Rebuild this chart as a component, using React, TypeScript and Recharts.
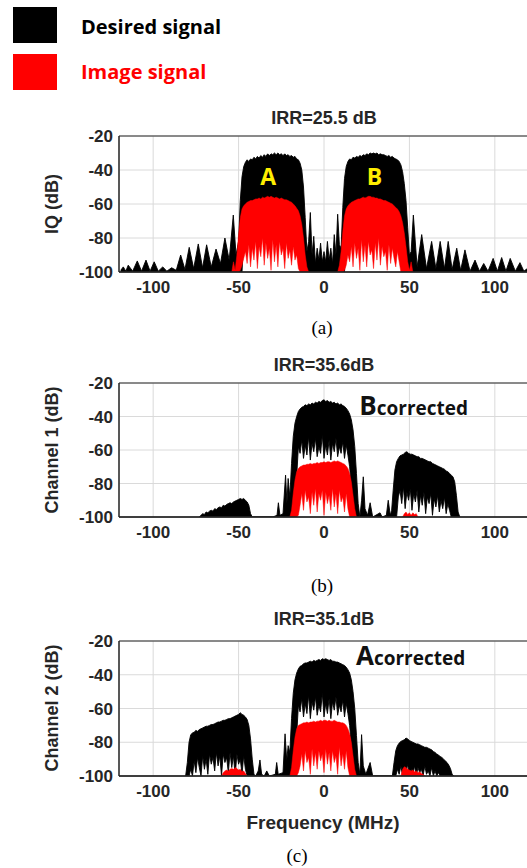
import React from 'react';
import { ComposedChart, Area, XAxis, YAxis, CartesianGrid, ReferenceArea, ReferenceDot } from 'recharts';

// each point: [frequency (MHz), lower edge (dB), upper edge (dB)] of the spectrum trace
type Pt = [number, number, number];

const freqTicks = [-100, -50, 0, 50, 100];
const dbTicks = [-100, -80, -60, -40, -20];

// ---------- (a) IQ, IRR = 25.5 dB ----------
const desiredA: Pt[] = [
  [-119, -100, -99], [-117.5, -100, -97], [-116, -100, -99.5], [-114.6, -100, -96], [-112, -100, -99.5],
  [-109.3, -100, -93.5], [-106.8, -100, -99.5], [-104.2, -100, -93], [-101.8, -100, -99.5], [-99.4, -100, -94],
  [-97, -100, -99.5], [-94.4, -100, -97], [-92, -100, -99.5], [-89.2, -100, -97.5], [-86.5, -100, -99],
  [-83.9, -100, -90], [-81.4, -100, -98.5], [-78.9, -100, -85.5], [-76.3, -100, -98], [-73.6, -100, -83.5],
  [-71.1, -100, -97.5], [-68.7, -100, -84], [-66, -100, -97], [-63.2, -100, -86.5], [-60.6, -100, -95],
  [-58, -100, -80], [-55.5, -100, -93], [-53.1, -100, -66.5], [-51.5, -100, -90],
  [-50, -100, -82], [-49, -100, -58], [-48, -100, -44], [-47, -80, -38], [-46, -66, -35.5], [-45, -64, -34],
  [-44, -66, -35], [-43, -63, -33.5], [-42, -65, -34], [-41, -62, -32.5], [-40, -64, -33.5], [-39, -63, -32],
  [-38, -66, -33], [-37, -62, -31.5], [-36, -64, -32.5], [-35, -63, -31], [-34, -65, -32], [-33, -62, -30.5],
  [-32, -64, -31.5], [-31, -63, -30.5], [-30, -65, -31], [-29, -62, -30], [-28, -64, -31], [-27, -63, -30],
  [-26, -65, -31], [-25, -62, -30.5], [-24, -64, -31.5], [-23, -63, -30.5], [-22, -65, -31.5], [-21, -62, -31],
  [-20, -64, -32], [-19, -63, -31.5], [-18, -65, -32.5], [-17, -63, -32], [-16, -64, -33.5], [-15, -66, -34],
  [-14, -70, -36], [-13, -85, -40], [-12, -100, -50], [-11, -100, -68], [-10, -100, -88],
  [-9, -100, -82], [-8, -100, -65], [-7, -100, -90], [-6, -100, -79], [-5, -100, -95], [-4, -100, -86],
  [-3, -100, -93], [-2, -100, -83], [-1, -100, -94], [0, -100, -88], [1, -100, -94], [2, -100, -82],
  [3, -100, -93], [4, -100, -86], [5, -100, -95], [6, -100, -78], [7, -100, -90], [8, -100, -66], [9, -100, -84],
  [10, -100, -86], [11, -100, -62], [12, -100, -45], [13, -80, -38], [14, -66, -35], [15, -64, -33.5],
  [16, -65, -34], [17, -62, -32.5], [18, -64, -33], [19, -63, -32], [20, -66, -32.5], [21, -62, -31.5],
  [22, -64, -32], [23, -63, -31], [24, -65, -31.5], [25, -62, -30.5], [26, -64, -31], [27, -63, -30],
  [28, -65, -30.5], [29, -62, -30], [30, -64, -30.5], [31, -63, -30], [32, -65, -31], [33, -62, -30.5],
  [34, -64, -31], [35, -63, -31], [36, -65, -31.5], [37, -62, -32], [38, -64, -31.5], [39, -63, -32.5],
  [40, -65, -32], [41, -63, -33], [42, -64, -33.5], [43, -66, -34], [44, -68, -35], [45, -75, -37],
  [46, -88, -41], [47, -100, -48], [48, -100, -58], [49, -100, -74], [50, -100, -90],
  [51, -100, -88], [52.3, -100, -66.5], [54.5, -100, -97], [57.2, -100, -78], [60, -100, -98], [63, -100, -82],
  [65.5, -100, -98], [68, -100, -82], [70.5, -100, -98], [72.7, -100, -82], [75, -100, -98.5], [77.7, -100, -86],
  [80, -100, -99], [82.5, -100, -87], [85.5, -100, -99.5], [88.4, -100, -93], [91, -100, -99.5], [93.5, -100, -95],
  [96, -100, -99.5], [99, -100, -92], [101.5, -100, -99.5], [104, -100, -91.5], [106.5, -100, -99.5],
  [109, -100, -92], [112, -100, -99.5], [114.7, -100, -94.5], [117, -100, -99.5], [119, -100, -98],
];
const imageA1: Pt[] = [
  [-54, -100, -100], [-53, -100, -94], [-52, -100, -99], [-51, -100, -90], [-50, -100, -78], [-49, -99, -68],
  [-48, -96, -63], [-47, -92, -61], [-46, -88, -60], [-45, -95, -59], [-44, -84, -58.5], [-43, -97, -58],
  [-42, -86, -58], [-41, -93, -57.5], [-40, -82, -57], [-39, -98, -57], [-38, -85, -56.5], [-37, -91, -57],
  [-36, -80, -56], [-35, -96, -56.5], [-34, -83, -56], [-33, -92, -55.5], [-32, -86, -56], [-31, -99, -55.5],
  [-30, -81, -56], [-29, -94, -56.5], [-28, -84, -56], [-27, -97, -56.5], [-26, -82, -57], [-25, -90, -56.5],
  [-24, -86, -57], [-23, -98, -57.5], [-22, -83, -57.5], [-21, -92, -58], [-20, -87, -58.5], [-19, -96, -59],
  [-18, -85, -60], [-17, -93, -61], [-16, -90, -62.5], [-15, -98, -64], [-14, -100, -67], [-13, -100, -72],
  [-12, -100, -80], [-11, -100, -90], [-10, -100, -97], [-9, -100, -100],
];
const imageA2: Pt[] = [
  [8, -100, -100], [9, -100, -96], [10, -100, -88], [11, -100, -76], [12, -99, -67], [13, -96, -63],
  [14, -90, -61], [15, -94, -60], [16, -85, -59], [17, -97, -58.5], [18, -83, -58], [19, -92, -57.5],
  [20, -86, -57], [21, -99, -57], [22, -81, -56.5], [23, -94, -56], [24, -84, -56.5], [25, -97, -56],
  [26, -82, -55.5], [27, -90, -55.5], [28, -87, -56], [29, -98, -56], [30, -83, -56.5], [31, -93, -56.5],
  [32, -80, -57], [33, -96, -57], [34, -85, -57.5], [35, -91, -58], [36, -88, -58], [37, -99, -58.5],
  [38, -84, -59], [39, -95, -59.5], [40, -86, -60], [41, -92, -61], [42, -97, -62], [43, -88, -63],
  [44, -94, -64.5], [45, -100, -67], [46, -100, -71], [47, -100, -77], [48, -100, -85], [49, -100, -94],
  [50, -100, -99], [51, -100, -94], [52, -100, -100],
];

// ---------- (b) Channel 1, IRR = 35.6 dB ----------
const desiredB: Pt[] = [
  [-73, -100, -100], [-72, -100, -99], [-71, -100, -98], [-70, -100, -98.5], [-69, -100, -97], [-68, -100, -97.5],
  [-67, -100, -96.5], [-66, -100, -96], [-65, -100, -96.5], [-64, -100, -95], [-63, -100, -95.5], [-62, -100, -94.5],
  [-61, -100, -94], [-60, -100, -94.5], [-59, -100, -93], [-58, -100, -93.5], [-57, -100, -92.5], [-56, -100, -92],
  [-55, -100, -91.5], [-54, -100, -92], [-53, -100, -91], [-52, -100, -90.5], [-51, -100, -90], [-50, -100, -89.5],
  [-49, -100, -89], [-48, -100, -89.5], [-47, -100, -89], [-46, -100, -90], [-45, -100, -91], [-44, -100, -93],
  [-43, -100, -98], [-42, -100, -100],
  [-30, -100, -100], [-27.5, -100, -99], [-26.7, -100, -91.5], [-25.8, -100, -99], [-24, -100, -98],
  [-22.5, -100, -75], [-21.7, -100, -92], [-21, -100, -77],
  [-20, -100, -88], [-19, -100, -68], [-18, -100, -52], [-17, -100, -44], [-16, -76, -40], [-15, -58, -37],
  [-14, -62, -35.5], [-13, -54, -34.5], [-12, -65, -34], [-11, -57, -33], [-10, -63, -33.5], [-9, -52, -32.5],
  [-8, -66, -33], [-7, -56, -32], [-6, -61, -32.5], [-5, -53, -31.5], [-4, -64, -32], [-3, -58, -31],
  [-2, -62, -31.5], [-1, -51, -30.5], [0, -65, -30], [1, -57, -31], [2, -63, -30.5], [3, -54, -31.5],
  [4, -66, -31], [5, -56, -32], [6, -61, -31.5], [7, -53, -32.5], [8, -64, -32], [9, -58, -33],
  [10, -62, -32.5], [11, -55, -33.5], [12, -65, -34], [13, -57, -35], [14, -63, -36.5], [15, -70, -38.5],
  [16, -82, -42], [17, -100, -48], [18, -100, -58], [19, -100, -74], [20, -100, -92],
  [21, -100, -100], [22, -100, -90], [23, -100, -76], [24, -100, -95], [25.5, -100, -99], [27, -100, -91.5],
  [28.5, -100, -100], [32.8, -100, -97.5], [34, -100, -100], [36.5, -100, -99], [37.6, -100, -90], [38.8, -100, -99],
  [39.6, -100, -96], [40.5, -100, -84], [41.5, -100, -72], [42.5, -100, -67], [43.5, -88, -65], [44.5, -84, -63.5],
  [45.5, -92, -63], [46.5, -82, -62.5], [47.5, -95, -61.5], [48.5, -85, -61], [49.5, -90, -62], [50.5, -83, -62.5],
  [51.5, -96, -62.5], [52.5, -86, -63], [53.5, -91, -63.5], [54.5, -84, -64], [55.5, -97, -64], [56.5, -87, -65],
  [57.5, -93, -65], [58.5, -85, -65.5], [59.5, -98, -66], [60.5, -88, -66.5], [61.5, -92, -67], [62.5, -86, -67],
  [63.5, -99, -68], [64.5, -89, -68.5], [65.5, -94, -69], [66.5, -87, -69.5], [67.5, -97, -70], [68.5, -90, -70.5],
  [69.5, -95, -71], [70.5, -88, -71.5], [71.5, -98, -72.5], [72.5, -92, -73], [73.5, -96, -74], [74.5, -100, -75],
  [75.5, -100, -76], [76.5, -100, -79], [77.5, -100, -87], [78.5, -100, -97], [79.5, -100, -100],
];
const imageB1: Pt[] = [
  [-20, -100, -100], [-19, -100, -96], [-18, -100, -86], [-17, -100, -78], [-16, -100, -73], [-15, -99, -71],
  [-14, -93, -70], [-13, -86, -69.5], [-12, -96, -69], [-11, -84, -69], [-10, -91, -68.5], [-9, -88, -68.5],
  [-8, -98, -68], [-7, -85, -68.5], [-6, -93, -68], [-5, -83, -68], [-4, -97, -67.5], [-3, -86, -68],
  [-2, -90, -67.5], [-1, -84, -67.5], [0, -99, -67], [1, -85, -67.5], [2, -92, -67], [3, -87, -67],
  [4, -96, -67.5], [5, -83, -67], [6, -94, -66.5], [7, -86, -67], [8, -98, -66.5], [9, -84, -67],
  [10, -91, -67.5], [11, -88, -68], [12, -97, -68.5], [13, -86, -69.5], [14, -95, -71], [15, -100, -74],
  [16, -100, -79], [17, -100, -87], [18, -100, -95], [19, -100, -100],
];
const imageB2: Pt[] = [
  [46, -100, -100], [47, -100, -98], [48, -100, -97], [49, -100, -98.5], [50, -100, -97.5], [51, -100, -99],
  [52, -100, -97.5], [53, -100, -98.5], [54, -100, -98], [55, -100, -100],
];

// ---------- (c) Channel 2, IRR = 35.1 dB ----------
const desiredC: Pt[] = [
  [-81, -100, -100], [-80, -100, -92], [-79, -100, -80], [-78, -96, -75.5], [-77, -100, -74.5], [-76, -91, -74],
  [-75, -98, -73], [-74, -89, -73.5], [-73, -95, -72.5], [-72, -100, -72], [-71, -88, -71.5], [-70, -96, -71],
  [-69, -90, -70.5], [-68, -99, -70.5], [-67, -87, -70], [-66, -93, -69.5], [-65, -89, -69.5], [-64, -97, -69],
  [-63, -86, -68.5], [-62, -94, -68], [-61, -88, -68], [-60, -100, -67.5], [-59, -87, -67], [-58, -92, -67],
  [-57, -89, -66.5], [-56, -98, -66], [-55, -86, -66], [-54, -95, -65.5], [-53, -88, -65], [-52, -100, -64.5],
  [-51, -87, -64], [-50, -93, -63.5], [-49, -90, -62.5], [-48, -99, -63.5], [-47, -88, -64], [-46, -96, -65],
  [-45, -100, -66.5], [-44, -100, -70], [-43, -100, -78], [-42, -100, -90], [-41, -100, -99],
  [-40, -100, -100], [-38.5, -100, -97], [-37.5, -100, -90.5], [-36.5, -100, -99], [-35, -100, -100],
  [-33.5, -100, -97], [-32, -100, -100], [-28.5, -100, -99], [-27.7, -100, -92], [-26.8, -100, -99],
  [-24, -100, -98], [-22.8, -100, -75], [-21.8, -100, -91], [-21, -100, -82],
  [-20, -100, -86], [-19, -100, -66], [-18, -100, -51], [-17, -100, -43], [-16, -76, -39], [-15, -58, -36.5],
  [-14, -62, -35], [-13, -54, -34.5], [-12, -65, -33.5], [-11, -57, -33], [-10, -63, -33], [-9, -52, -32.5],
  [-8, -66, -32], [-7, -56, -32.5], [-6, -61, -31.5], [-5, -53, -32], [-4, -64, -31.5], [-3, -58, -31],
  [-2, -62, -31.5], [-1, -51, -30.5], [0, -65, -31], [1, -57, -30.5], [2, -63, -31], [3, -54, -31.5],
  [4, -66, -31], [5, -56, -32], [6, -61, -32], [7, -53, -32.5], [8, -64, -32.5], [9, -58, -33],
  [10, -62, -33.5], [11, -55, -34], [12, -65, -34.5], [13, -57, -35.5], [14, -63, -37], [15, -70, -39],
  [16, -82, -43], [17, -100, -50], [18, -100, -60], [19, -100, -76], [20, -100, -92],
  [21, -100, -99], [22, -100, -75.5], [23, -100, -94], [24.5, -100, -99], [27, -100, -92], [28.5, -100, -100],
  [40, -100, -100], [41, -100, -92], [42, -100, -85], [43, -96, -82], [44, -99, -80.5], [45, -94, -79.5],
  [46, -100, -79], [47, -95, -78.5], [48, -98, -77.5], [49, -93, -78], [50, -100, -79], [51, -96, -79.5],
  [52, -99, -80], [53, -94, -80.5], [54, -100, -81], [55, -95, -81], [56, -98, -81.5], [57, -96, -82],
  [58, -100, -82.5], [59, -94, -83], [60, -99, -83], [61, -97, -83.5], [62, -100, -84], [63, -95, -84.5],
  [64, -100, -85.5], [65, -97, -86], [66, -100, -87], [67, -98, -87.5], [68, -100, -88.5], [69, -100, -89],
  [70, -100, -90], [71, -100, -91], [72, -100, -92], [73, -100, -93.5], [74, -100, -95.5], [75, -100, -99],
  [76, -100, -100],
];
const imageC1: Pt[] = [
  [-60, -100, -100], [-59, -100, -98], [-58, -100, -97], [-57, -100, -96.5], [-56, -100, -97], [-55, -100, -96],
  [-54, -100, -95.5], [-53, -100, -96], [-52, -100, -95], [-51, -100, -95.5], [-50, -100, -96.5], [-49, -100, -96],
  [-48, -100, -97.5], [-47, -100, -97], [-46, -100, -98.5], [-45, -100, -100],
];
const imageC2: Pt[] = [
  [-20, -100, -100], [-19, -100, -95], [-18, -100, -85], [-17, -100, -77], [-16, -100, -72], [-15, -98, -70],
  [-14, -94, -69.5], [-13, -87, -69], [-12, -97, -68.5], [-11, -85, -68.5], [-10, -92, -68], [-9, -89, -68.5],
  [-8, -99, -68], [-7, -84, -68], [-6, -94, -67.5], [-5, -86, -68], [-4, -96, -67.5], [-3, -85, -67.5],
  [-2, -91, -67], [-1, -87, -67.5], [0, -98, -67], [1, -84, -67], [2, -93, -67.5], [3, -86, -67],
  [4, -97, -67.5], [5, -85, -67.5], [6, -92, -67], [7, -88, -67.5], [8, -99, -68], [9, -83, -68],
  [10, -94, -68.5], [11, -87, -68.5], [12, -96, -69], [13, -85, -70], [14, -95, -72], [15, -100, -75],
  [16, -100, -80], [17, -100, -88], [18, -100, -96], [19, -100, -100],
];
const imageC3: Pt[] = [
  [45, -100, -100], [46, -100, -96], [47, -100, -94.5], [48, -100, -95], [49, -100, -96], [50, -100, -96.5],
  [51, -100, -97], [52, -100, -96.5], [53, -100, -97.5], [54, -100, -97], [55, -100, -98], [56, -100, -97.5],
  [57, -100, -98.5], [58, -100, -99], [59, -100, -100],
];

const toRows = (pts: Pt[]) => pts.map(([f, lo, hi]) => ({ f, band: [lo, hi] }));

const axisFont = '"Liberation Sans", Arial, sans-serif';
const ink = '#262626';
const tickStyle = { fill: ink, fontSize: 17, fontWeight: 700, fontFamily: axisFont };

const CorrectedTag = (letter: string) => (props: any) => {
  const vb = props.viewBox || {};
  return (
    <text x={vb.x} y={vb.y} fill="#111" fontFamily='"Open Sans", sans-serif' fontWeight={700}>
      <tspan fontSize={26}>{letter}</tspan>
      <tspan fontSize={19}>corrected</tspan>
    </text>
  );
};

type PanelProps = {
  top: number;
  marginTop: number;
  plotH: number;
  desired: Pt[];
  image: Pt[][];
  children?: React.ReactNode;
};

const Panel = ({ top, marginTop, plotH, desired, image, children }: PanelProps) => (
  <div style={{ position: 'absolute', left: 0, top }}>
    <ComposedChart width={530} height={marginTop + plotH + 34} margin={{ top: marginTop, right: 1, bottom: 0, left: 0 }}>
      <CartesianGrid stroke="#dadada" />
      <XAxis
        dataKey="f"
        type="number"
        domain={[-120, 120]}
        ticks={freqTicks}
        allowDataOverflow
        height={34}
        tickSize={0}
        tickMargin={9}
        tick={tickStyle}
        axisLine={{ stroke: ink, strokeWidth: 1.5 }}
      />
      <XAxis
        xAxisId="top"
        orientation="top"
        type="number"
        domain={[-120, 120]}
        ticks={freqTicks}
        height={0}
        mirror
        tickSize={4}
        tickFormatter={() => ''}
        axisLine={false}
        tickLine={{ stroke: ink }}
      />
      <YAxis
        type="number"
        domain={[-100, -20]}
        ticks={dbTicks}
        allowDataOverflow
        width={119}
        tickSize={0}
        tickMargin={6}
        tick={tickStyle}
        axisLine={{ stroke: ink }}
      />
      <YAxis
        yAxisId="right"
        orientation="right"
        type="number"
        domain={[-100, -20]}
        ticks={dbTicks}
        width={0}
        mirror
        tickSize={4}
        tickFormatter={() => ''}
        axisLine={false}
        tickLine={{ stroke: ink }}
      />
      <Area
        data={toRows(desired)}
        dataKey="band"
        type="linear"
        stroke="#000"
        strokeWidth={0.9}
        fill="#000"
        fillOpacity={1}
        isAnimationActive={false}
        activeDot={false}
      />
      {image.map((pts, i) => (
        <Area
          key={i}
          data={toRows(pts)}
          dataKey="band"
          type="linear"
          stroke="#ff0000"
          strokeWidth={0.5}
          fill="#ff0000"
          fillOpacity={1}
          isAnimationActive={false}
          activeDot={false}
        />
      ))}
      <ReferenceArea x1={-120} x2={120} y1={-100} y2={-20} fill="none" fillOpacity={0} stroke={ink} strokeWidth={1} />
      {children}
    </ComposedChart>
  </div>
);

const centered = (x: number, y: number): React.CSSProperties => ({
  position: 'absolute',
  left: x,
  top: y,
  transform: 'translate(-50%, -50%)',
  whiteSpace: 'nowrap',
  lineHeight: 1,
});

const titleStyle = (x: number, y: number, size = 18): React.CSSProperties => ({
  ...centered(x, y),
  fontFamily: axisFont,
  fontWeight: 700,
  fontSize: size,
  color: ink,
});

const yLabelStyle = (y: number): React.CSSProperties => ({
  ...titleStyle(52, y),
  transform: 'translate(-50%, -50%) rotate(-90deg)',
});

const captionStyle = (x: number, y: number): React.CSSProperties => ({
  ...centered(x, y),
  fontFamily: '"Liberation Serif", "Times New Roman", serif',
  fontSize: 19,
  color: '#000',
});

const legendText = (y: number, color: string): React.CSSProperties => ({
  position: 'absolute',
  left: 81,
  top: y,
  transform: 'translateY(-50%)',
  fontFamily: '"Open Sans", sans-serif',
  fontWeight: 700,
  fontSize: 20,
  lineHeight: 1,
  color,
  whiteSpace: 'nowrap',
});

const letterLabel = (value: string) => ({
  value,
  position: 'center' as const,
  fill: '#ffee00',
  fontSize: 23,
  fontWeight: 700,
  fontFamily: '"Open Sans", sans-serif',
});

export default function App() {
  return (
    <div style={{ position: 'absolute', left: 0, top: 0, width: 527, height: 868, overflow: 'hidden', background: '#fff' }}>
      <div style={{ position: 'absolute', left: 13, top: 7, width: 44, height: 36, background: '#000' }} />
      <div style={legendText(27, '#000')}>Desired signal</div>
      <div style={{ position: 'absolute', left: 13, top: 54, width: 44, height: 36, background: '#ff0000' }} />
      <div style={legendText(72, '#ff0000')}>Image signal</div>

      <Panel top={100} marginTop={36} plotH={136} desired={desiredA} image={[imageA1, imageA2]}>
        <ReferenceDot x={-32.6} y={-44.3} r={0} fill="none" stroke="none" label={letterLabel('A')} />
        <ReferenceDot x={29.6} y={-44.3} r={0} fill="none" stroke="none" label={letterLabel('B')} />
      </Panel>
      <Panel top={350} marginTop={33} plotH={134} desired={desiredB} image={[imageB1, imageB2]}>
        <ReferenceDot x={20.7} y={-39.1} r={0} fill="none" stroke="none" label={CorrectedTag('B')} />
      </Panel>
      <Panel top={610} marginTop={31} plotH={135} desired={desiredC} image={[imageC1, imageC2, imageC3]}>
        <ReferenceDot x={18.7} y={-34.2} r={0} fill="none" stroke="none" label={CorrectedTag('A')} />
      </Panel>

      <div style={titleStyle(324, 118)}>IRR=25.5 dB</div>
      <div style={titleStyle(324, 365)}>IRR=35.6dB</div>
      <div style={titleStyle(324, 619)}>IRR=35.1dB</div>

      <div style={yLabelStyle(204)}>IQ (dB)</div>
      <div style={yLabelStyle(450)}>Channel 1 (dB)</div>
      <div style={yLabelStyle(708)}>Channel 2 (dB)</div>

      <div style={titleStyle(323, 822, 19)}>Frequency (MHz)</div>

      <div style={captionStyle(322, 327)}>(a)</div>
      <div style={captionStyle(322, 585)}>(b)</div>
      <div style={captionStyle(297, 855)}>(c)</div>
    </div>
  );
}
